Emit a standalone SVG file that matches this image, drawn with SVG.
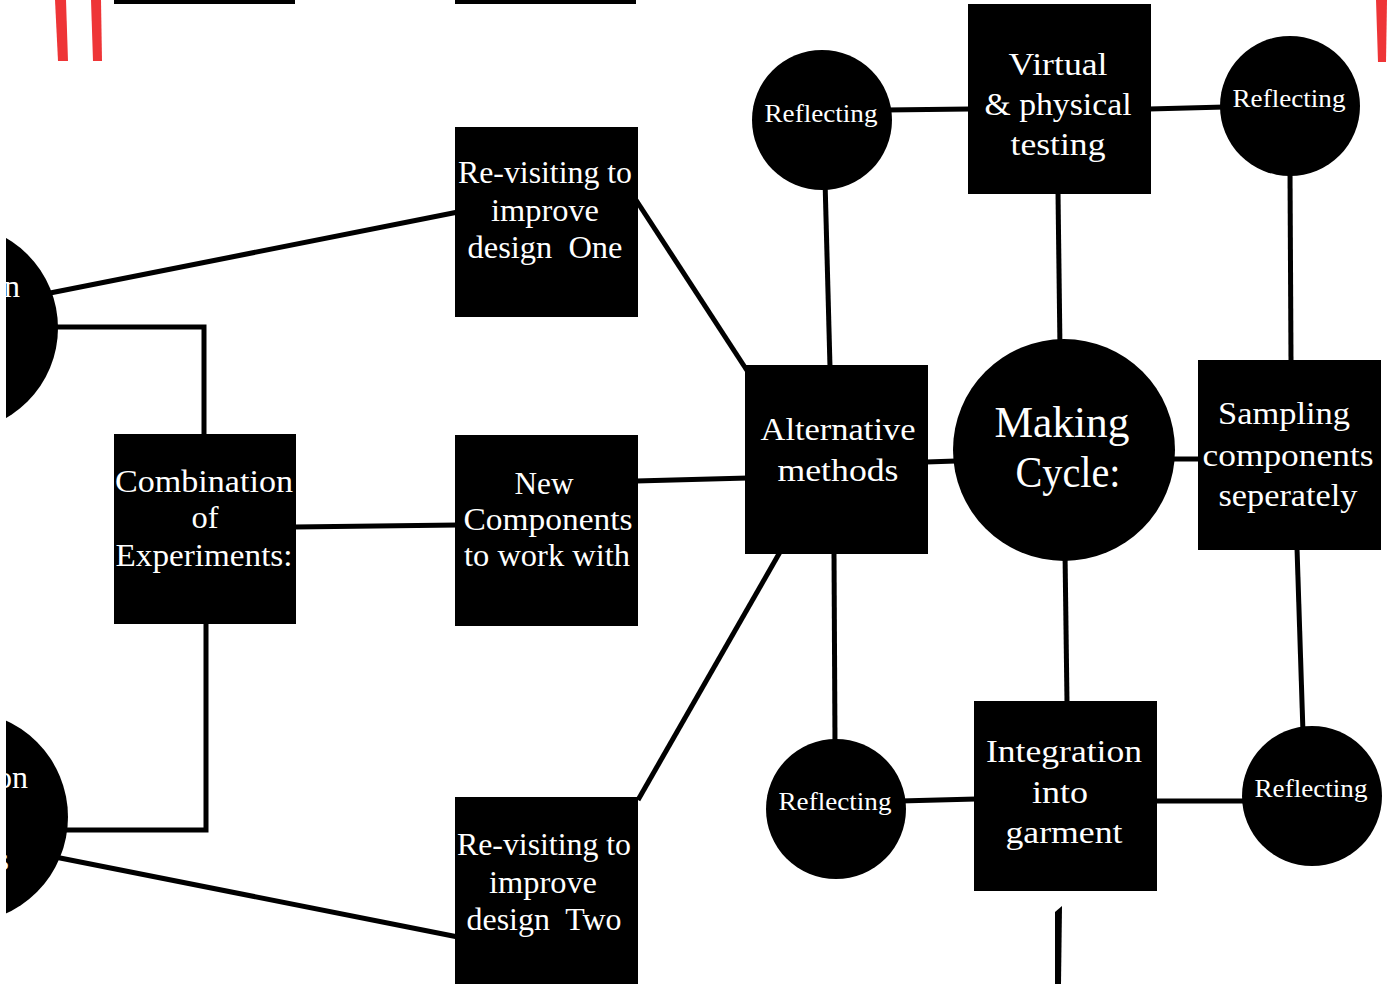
<svg xmlns="http://www.w3.org/2000/svg" width="1388" height="984" viewBox="0 0 1388 984">
  <style>
    .box { fill: #000; }
    .dot { fill: #000; }
    .lbl { fill: #fff; font-family: "Liberation Serif", "Times New Roman", serif; font-size: 32px; text-anchor: middle; }
    .sm { font-size: 26px; }
    .big { font-size: 45px; }
    .wire { stroke: #000; stroke-width: 5; fill: none; stroke-linejoin: miter; }
    .red { fill: #ee3537; }
  </style>

  <rect width="1388" height="984" fill="#fff"/>

  <!-- red margin marks -->
  <polygon class="red" points="55,0 66,0 68,61 58,61"/>
  <polygon class="red" points="91,0 101,0 102,61 93,61"/>
  <polygon class="red" points="1376,0 1387,0 1386,62 1378,62"/>

  <!-- boxes cut off at the top edge -->
  <rect class="box" x="114" y="0" width="181" height="4"/>
  <rect class="box" x="455" y="0" width="181" height="4"/>

  <!-- connectors -->
  <g id="connectors" class="wire">
    <line x1="40" y1="295" x2="458" y2="212"/>
    <polyline points="40,327 204,327 204,436"/>
    <polyline points="206,622 206,830 50,830"/>
    <line x1="45" y1="855" x2="458" y2="937"/>
    <line x1="294" y1="527" x2="458" y2="525"/>
    <line x1="636" y1="200" x2="748" y2="372"/>
    <line x1="636" y1="481" x2="748" y2="478"/>
    <line x1="638" y1="800" x2="780" y2="552"/>
    <line x1="830" y1="367" x2="825" y2="180"/>
    <line x1="885" y1="110" x2="970" y2="109"/>
    <line x1="1058" y1="192" x2="1060" y2="350"/>
    <line x1="1149" y1="109" x2="1225" y2="107"/>
    <line x1="1290" y1="170" x2="1291" y2="362"/>
    <line x1="1170" y1="459" x2="1200" y2="459"/>
    <line x1="926" y1="462" x2="956" y2="461"/>
    <line x1="834" y1="552" x2="835" y2="745"/>
    <line x1="1065" y1="552" x2="1067" y2="703"/>
    <line x1="900" y1="801" x2="976" y2="799"/>
    <line x1="1155" y1="801" x2="1248" y2="801"/>
    <line x1="1297" y1="548" x2="1303" y2="733"/>
    <polygon points="1055,912 1062,906 1061,984 1055,984" fill="#000" stroke="none"/>
  </g>

  <!-- partial circles on the left edge -->
  <g id="left-circle-top">
    <circle class="dot" cx="-46" cy="328" r="104"/>
    <text class="lbl" x="20" y="297" style="text-anchor:end">n</text>
  </g>
  <g id="left-circle-bottom">
    <circle class="dot" cx="-38" cy="817" r="106"/>
    <text class="lbl" x="28" y="788" style="text-anchor:end">on</text>
    <text class="lbl" x="9" y="870" style="text-anchor:end">s</text>
  </g>
  <rect x="0" y="0" width="6" height="984" fill="#fff"/>

  <g id="revisit-one">
    <rect class="box" x="455" y="127" width="183" height="190"/>
    <text class="lbl" x="545" y="183" textLength="174" lengthAdjust="spacingAndGlyphs">Re-visiting to</text>
    <text class="lbl" x="545" y="221" textLength="108" lengthAdjust="spacingAndGlyphs">improve</text>
    <text class="lbl" x="545" y="258" textLength="155" lengthAdjust="spacingAndGlyphs" xml:space="preserve">design  One</text>
  </g>

  <g id="combination">
    <rect class="box" x="114" y="434" width="182" height="190"/>
    <text class="lbl" x="204" y="492" textLength="178" lengthAdjust="spacingAndGlyphs">Combination</text>
    <text class="lbl" x="205" y="528" textLength="27" lengthAdjust="spacingAndGlyphs">of</text>
    <text class="lbl" x="204" y="566" textLength="177" lengthAdjust="spacingAndGlyphs">Experiments:</text>
  </g>

  <g id="new-components">
    <rect class="box" x="455" y="435" width="183" height="191"/>
    <text class="lbl" x="544" y="494" textLength="59" lengthAdjust="spacingAndGlyphs">New</text>
    <text class="lbl" x="548" y="530" textLength="169" lengthAdjust="spacingAndGlyphs">Components</text>
    <text class="lbl" x="547" y="566" textLength="166" lengthAdjust="spacingAndGlyphs">to work with</text>
  </g>

  <g id="revisit-two">
    <rect class="box" x="455" y="797" width="183" height="190"/>
    <text class="lbl" x="544" y="855" textLength="174" lengthAdjust="spacingAndGlyphs">Re-visiting to</text>
    <text class="lbl" x="543" y="893" textLength="108" lengthAdjust="spacingAndGlyphs">improve</text>
    <text class="lbl" x="544" y="930" textLength="155" lengthAdjust="spacingAndGlyphs" xml:space="preserve">design  Two</text>
  </g>

  <g id="alternative-methods">
    <rect class="box" x="745" y="365" width="183" height="189"/>
    <text class="lbl" x="838" y="440" textLength="155" lengthAdjust="spacingAndGlyphs">Alternative</text>
    <text class="lbl" x="838" y="481" textLength="121" lengthAdjust="spacingAndGlyphs">methods</text>
  </g>

  <g id="making-cycle">
    <circle class="dot" cx="1064" cy="450" r="111"/>
    <text class="lbl big" x="1062" y="437" textLength="135" lengthAdjust="spacingAndGlyphs">Making</text>
    <text class="lbl big" x="1068" y="487" textLength="105" lengthAdjust="spacingAndGlyphs">Cycle:</text>
  </g>

  <g id="virtual-testing">
    <rect class="box" x="968" y="4" width="183" height="190"/>
    <text class="lbl" x="1058" y="75" textLength="99" lengthAdjust="spacingAndGlyphs">Virtual</text>
    <text class="lbl" x="1058" y="115" textLength="147" lengthAdjust="spacingAndGlyphs">&amp; physical</text>
    <text class="lbl" x="1058" y="155" textLength="95" lengthAdjust="spacingAndGlyphs">testing</text>
  </g>

  <g id="sampling">
    <rect class="box" x="1198" y="360" width="183" height="190"/>
    <text class="lbl" x="1284" y="424" textLength="132" lengthAdjust="spacingAndGlyphs">Sampling</text>
    <text class="lbl" x="1288" y="466" textLength="171" lengthAdjust="spacingAndGlyphs">components</text>
    <text class="lbl" x="1288" y="506" textLength="139" lengthAdjust="spacingAndGlyphs">seperately</text>
  </g>

  <g id="integration">
    <rect class="box" x="974" y="701" width="183" height="190"/>
    <text class="lbl" x="1064" y="762" textLength="156" lengthAdjust="spacingAndGlyphs">Integration</text>
    <text class="lbl" x="1060" y="803" textLength="56" lengthAdjust="spacingAndGlyphs">into</text>
    <text class="lbl" x="1064" y="843" textLength="117" lengthAdjust="spacingAndGlyphs">garment</text>
  </g>

  <g id="reflecting-tl">
    <circle class="dot" cx="822" cy="120" r="70"/>
    <text class="lbl sm" x="821" y="122" textLength="113" lengthAdjust="spacingAndGlyphs">Reflecting</text>
  </g>
  <g id="reflecting-tr">
    <circle class="dot" cx="1290" cy="106" r="70"/>
    <text class="lbl sm" x="1289" y="107" textLength="113" lengthAdjust="spacingAndGlyphs">Reflecting</text>
  </g>
  <g id="reflecting-bl">
    <circle class="dot" cx="836" cy="809" r="70"/>
    <text class="lbl sm" x="835" y="810" textLength="113" lengthAdjust="spacingAndGlyphs">Reflecting</text>
  </g>
  <g id="reflecting-br">
    <circle class="dot" cx="1312" cy="796" r="70"/>
    <text class="lbl sm" x="1311" y="797" textLength="113" lengthAdjust="spacingAndGlyphs">Reflecting</text>
  </g>
</svg>
